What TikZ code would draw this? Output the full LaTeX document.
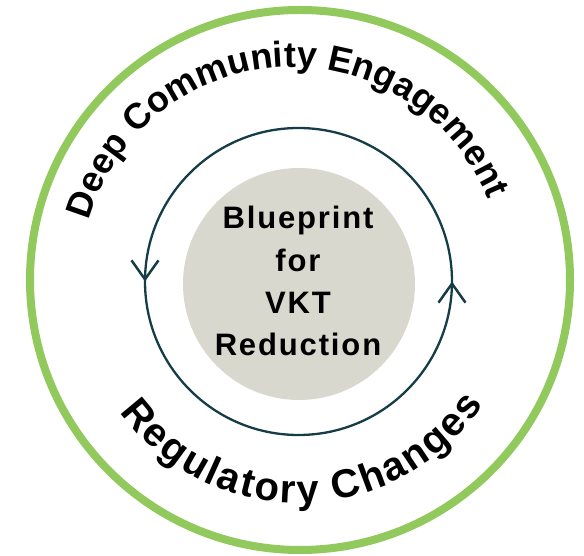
\documentclass[tikz,border=0pt]{standalone}
\usepackage{fontspec}
\setmainfont{Liberation Sans}
\newfontfamily\hubsans{Liberation Sans}[LetterSpace=6]
\usetikzlibrary{decorations.text,decorations.markings,arrows.meta}
\definecolor{ringgreen}{RGB}{146,201,92}
\definecolor{cycleteal}{RGB}{20,61,72}
\definecolor{hubgrey}{RGB}{217,216,206}
\newcommand\arcfontTop{\fontsize{36}{36}\selectfont\bfseries}
\newcommand\arcfontBottom{\fontsize{40}{40}\selectfont\bfseries}
\begin{document}
\begin{tikzpicture}[x=1pt,y=1pt,
  ring/.style={draw=ringgreen,line width=8pt},
  cyclebarb/.tip={Straight Barb[length=19pt,width=27pt,line width=2.5pt]},
  cyclepath/.style={draw=cycleteal,line width=2.3pt,
    postaction={decorate},
    decoration={markings,
      mark=at position 0.25 with {\arrow[cycleteal]{cyclebarb}},
      mark=at position 0.75 with {\arrow[cycleteal]{cyclebarb}}}},
  hub/.style={circle,fill=hubgrey,minimum size=232pt,inner sep=0pt},
  hubtext/.style={align=center,inner sep=0pt,
    font=\hubsans\bfseries\fontsize{31}{42.3}\selectfont},
  arclabel/.style={decorate,decoration={text along path,
    text align=fit to path,text={#1}}}
]
\useasboundingbox (0,0) rectangle (584,556);

% centres of the rings and of the two curved labels
\coordinate (ringc) at (300,276);
\coordinate (cyc) at (298.5,274.5);
\coordinate (topc) at (292,278);
\coordinate (botc) at (299,274);

% outer green ring
\draw[ring] (ringc) circle[radius=270];

% central hub
\node[hub] (hub) at (299,272) {};
\node[hubtext] (title) at (298,274.9) {Blueprint\\for\\VKT\\Reduction};

% cycle with two barbs
\draw[cyclepath] ([shift={(90:153.5)}]cyc) arc[start angle=90,end angle=450,radius=153.5];

% curved labels
\path[arclabel={|\arcfontTop|Deep Community Engagement}]
  ([shift={(164.2:211)}]topc) arc[start angle=164.2,end angle=21.8,radius=211];
\path[arclabel={|\arcfontBottom|Regulatory Changes}]
  ([shift={(-144:221)}]botc) arc[start angle=-144,end angle=-33.5,radius=221];
\end{tikzpicture}
\end{document}
